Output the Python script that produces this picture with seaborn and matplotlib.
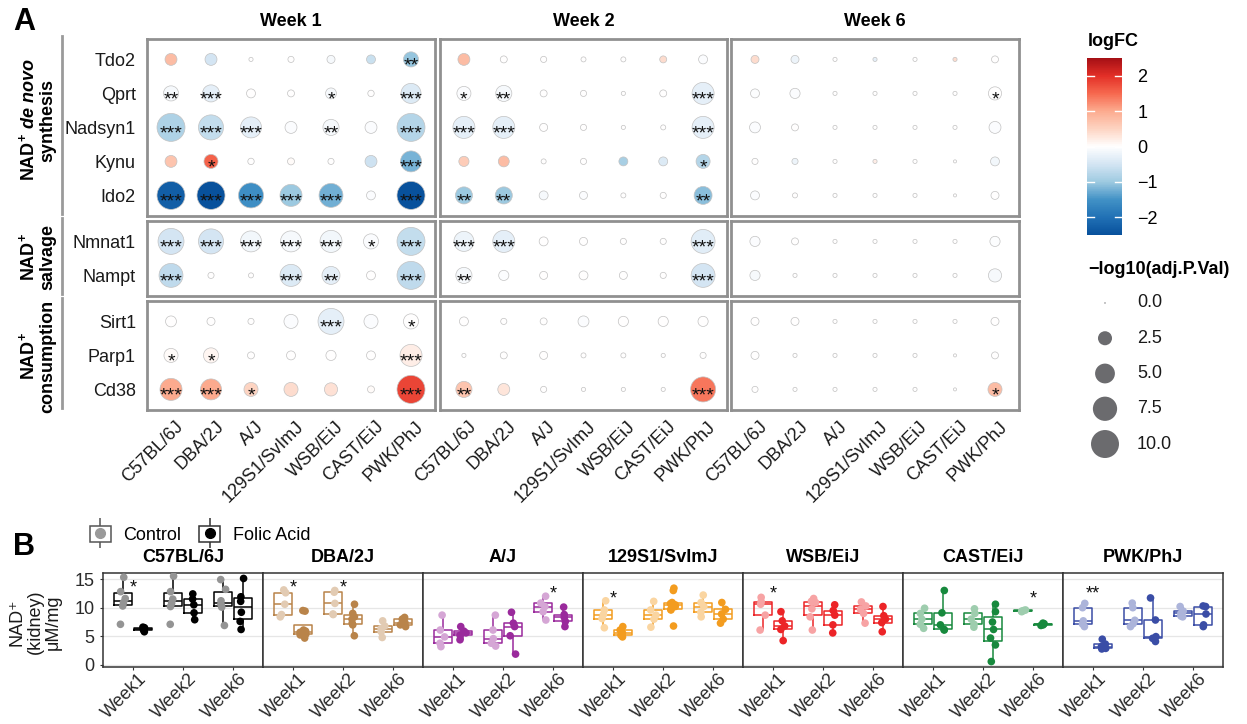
import numpy as np
import pandas as pd
import matplotlib
matplotlib.use("Agg")
import matplotlib.pyplot as plt
import matplotlib as mpl
from matplotlib.colors import LinearSegmentedColormap, Normalize, to_rgb
from matplotlib.lines import Line2D
from matplotlib.patches import Rectangle
from matplotlib.legend_handler import HandlerTuple
from matplotlib import transforms
import seaborn as sns

plt.rcParams['font.family'] = ['Liberation Sans', 'DejaVu Sans']
plt.rcParams['mathtext.fontset'] = 'custom'
plt.rcParams['mathtext.rm'] = 'Liberation Sans:bold'
plt.rcParams['mathtext.it'] = 'Liberation Sans:italic:bold'
plt.rcParams['mathtext.bf'] = 'Liberation Sans:bold'

# ---------------- data: panel A ----------------
strains = ["C57BL/6J", "DBA/2J", "A/J", "129S1/SvImJ", "WSB/EiJ", "CAST/EiJ", "PWK/PhJ"]
weeks_A = ["Week 1", "Week 2", "Week 6"]
genes_denovo = ["Tdo2", "Qprt", "Nadsyn1", "Kynu", "Ido2"]
genes_salvage = ["Nmnat1", "Nampt"]
genes_consumption = ["Sirt1", "Parp1", "Cd38"]
genes = genes_denovo + genes_salvage + genes_consumption

logfc_week1 = [
    [0.8, -0.5, 0.0, 0.0, -0.1, -0.6, -1.05],
    [-0.1, -0.3, 0.0, 0.0, -0.1, 0.0, -0.4],
    [-0.85, -0.65, -0.3, -0.05, -0.1, -0.05, -0.8],
    [0.7, 1.55, 0.0, 0.05, 0.0, -0.55, -1.2],
    [-2.3, -2.5, -1.55, -1.0, -1.25, -0.05, -2.5],
    [-0.5, -0.5, -0.15, -0.1, -0.15, -0.05, -0.65],
    [-0.7, 0.0, 0.0, -0.4, -0.3, 0.0, -0.7],
    [0.0, 0.0, 0.0, -0.05, -0.3, -0.05, 0.0],
    [0.05, 0.1, 0.0, 0.0, 0.0, 0.0, 0.2],
    [1.0, 1.0, 0.5, 0.4, 0.35, 0.05, 1.8],
]
nlp_week1 = [
    [1.8, 1.8, 0.2, 0.46, 0.8, 1.0, 2.9],
    [2.9, 3.7, 1.0, 0.6, 1.5, 0.5, 5.1],
    [11.5, 8.0, 5.6, 1.8, 3.3, 1.8, 11.5],
    [1.8, 2.5, 0.5, 0.6, 0.46, 1.8, 5.6],
    [11.5, 11.5, 8.0, 6.2, 7.3, 1.0, 11.5],
    [8.6, 8.0, 5.6, 5.6, 6.2, 2.9, 11.5],
    [7.3, 0.46, 0.3, 6.2, 4.1, 1.0, 10.0],
    [1.5, 0.8, 0.46, 2.5, 8.6, 2.5, 2.9],
    [2.5, 2.9, 0.6, 1.0, 1.3, 1.0, 6.2],
    [6.2, 5.6, 2.5, 2.5, 2.2, 0.6, 11.5],
]
stars_week1 = [
    ["", "", "", "", "", "", "**"],
    ["**", "***", "", "", "*", "", "***"],
    ["***", "***", "***", "", "**", "", "***"],
    ["", "*", "", "", "", "", "***"],
    ["***", "***", "***", "***", "***", "", "***"],
    ["***", "***", "***", "***", "***", "*", "***"],
    ["***", "", "", "***", "**", "", "***"],
    ["", "", "", "", "***", "", "*"],
    ["*", "*", "", "", "", "", "***"],
    ["***", "***", "*", "", "", "", "***"],
]
logfc_week2 = [
    [0.8, 0.0, 0.0, 0.0, 0.0, 0.4, -0.05],
    [-0.05, -0.1, 0.0, 0.0, 0.0, 0.0, -0.3],
    [-0.3, -0.3, 0.0, 0.0, 0.0, 0.0, -0.3],
    [0.6, 0.8, 0.0, 0.0, -0.9, -0.4, -0.8],
    [-1.0, -1.0, -0.1, -0.05, 0.0, 0.0, -1.1],
    [-0.2, -0.3, 0.0, 0.0, 0.0, 0.0, -0.35],
    [-0.1, -0.02, 0.0, 0.0, 0.0, 0.0, -0.5],
    [0.0, 0.0, 0.0, -0.05, 0.0, 0.0, 0.0],
    [0.0, 0.0, 0.0, 0.0, 0.0, 0.0, 0.0],
    [0.7, 0.3, 0.0, 0.0, 0.0, 0.0, 1.4],
]
nlp_week2 = [
    [1.8, 0.6, 0.46, 0.3, 0.3, 0.6, 1.0],
    [2.5, 3.3, 0.6, 0.46, 0.2, 0.6, 6.2],
    [6.2, 6.2, 0.8, 0.46, 0.2, 0.3, 6.2],
    [1.3, 1.5, 0.3, 0.46, 1.0, 1.0, 2.5],
    [3.7, 3.7, 1.0, 0.8, 0.3, 0.46, 4.1],
    [5.1, 6.2, 1.0, 0.8, 0.46, 0.46, 7.3],
    [3.3, 1.3, 0.8, 1.0, 0.8, 0.46, 7.3],
    [1.0, 0.46, 0.6, 1.5, 1.3, 1.3, 1.3],
    [0.2, 0.6, 0.8, 0.3, 0.3, 0.2, 0.46],
    [3.3, 1.8, 0.46, 0.2, 0.2, 0.2, 8.0],
]
stars_week2 = [
    ["", "", "", "", "", "", ""],
    ["*", "**", "", "", "", "", "***"],
    ["***", "***", "", "", "", "", "***"],
    ["", "", "", "", "", "", "*"],
    ["**", "**", "", "", "", "", "**"],
    ["***", "***", "", "", "", "", "***"],
    ["**", "", "", "", "", "", "***"],
    ["", "", "", "", "", "", ""],
    ["", "", "", "", "", "", ""],
    ["**", "", "", "", "", "", "***"],
]
logfc_week6 = [
    [0.4, -0.2, 0.0, -0.3, 0.0, 0.4, 0.0],
    [-0.03, -0.05, 0.0, 0.0, 0.0, 0.0, 0.0],
    [-0.05, 0.0, 0.0, 0.0, 0.0, 0.0, -0.05],
    [0.0, -0.2, 0.0, 0.2, 0.0, 0.0, -0.15],
    [-0.05, 0.0, 0.0, 0.0, 0.0, 0.0, 0.0],
    [-0.05, 0.0, 0.0, 0.0, 0.0, 0.0, -0.03],
    [-0.1, 0.0, 0.0, 0.0, 0.0, 0.0, -0.1],
    [0.0, 0.0, 0.0, 0.0, 0.0, 0.0, 0.0],
    [0.0, 0.0, 0.0, 0.0, 0.0, 0.0, 0.0],
    [0.0, 0.0, 0.0, 0.0, 0.0, 0.0, 0.8],
]
nlp_week6 = [
    [0.8, 0.8, 0.2, 0.2, 0.2, 0.2, 0.6],
    [1.0, 1.3, 0.2, 0.2, 0.2, 0.2, 2.2],
    [1.5, 0.6, 0.2, 0.2, 0.2, 0.2, 1.8],
    [0.46, 0.46, 0.2, 0.2, 0.2, 0.1, 1.0],
    [1.0, 0.3, 0.2, 0.2, 0.2, 0.1, 0.8],
    [1.3, 0.6, 0.2, 0.2, 0.2, 0.2, 1.3],
    [1.3, 0.2, 0.2, 0.2, 0.2, 0.2, 2.2],
    [0.8, 0.8, 0.2, 0.2, 0.2, 0.2, 0.8],
    [0.8, 0.2, 0.2, 0.2, 0.2, 0.1, 0.6],
    [0.46, 0.2, 0.2, 0.2, 0.2, 0.1, 2.5],
]
stars_week6 = [
    ["", "", "", "", "", "", ""],
    ["", "", "", "", "", "", "*"],
    ["", "", "", "", "", "", ""],
    ["", "", "", "", "", "", ""],
    ["", "", "", "", "", "", ""],
    ["", "", "", "", "", "", ""],
    ["", "", "", "", "", "", ""],
    ["", "", "", "", "", "", ""],
    ["", "", "", "", "", "", ""],
    ["", "", "", "", "", "", "*"],
]
size_breaks = [0.0, 2.5, 5.0, 7.5, 10.0]
logfc_ticks = [-2, -1, 0, 1, 2]

# ---------------- data: panel B ----------------
weeks_B = ["Week1", "Week2", "Week6"]
treatments = ["Control", "Folic Acid"]
c57_ctrl = [[7.1, 10.3, 10.9, 11.6, 12.8, 15.3], [7.1, 10.2, 10.8, 11.5, 12.8, 15.5], [6.9, 10.1, 10.6, 11.2, 13.2, 14.9]]
c57_fa = [[5.8, 6.1, 6.35, 6.5, 6.6], [7.9, 9.1, 10.5, 11.5, 12.4], [6.2, 7.6, 9.2, 11.1, 11.9, 15.1]]
dba_ctrl = [[8.4, 8.8, 10.6, 12.6, 13.1], [8.8, 8.9, 10.75, 12.7, 13.0], [4.8, 5.8, 6.35, 6.8, 7.7]]
dba_fa = [[4.7, 5.25, 5.4, 5.7, 5.9, 6.1, 9.4, 9.5], [5.1, 7.0, 7.3, 8.0, 8.4, 9.0, 10.6], [6.7, 7.0, 7.4, 8.0, 8.3]]
aj_ctrl = [[3.2, 3.8, 4.9, 6.1, 8.7], [3.3, 3.8, 4.6, 6.1, 8.7], [7.85, 9.3, 10.2, 10.8, 12.0]]
aj_fa = [[4.4, 5.2, 5.6, 5.9, 6.7], [1.9, 5.1, 6.7, 7.3, 9.2], [6.7, 7.6, 8.3, 8.8, 10.1]]
s129_ctrl = [[6.5, 8.1, 8.8, 9.6, 11.2], [6.6, 8.0, 8.7, 9.6, 11.1], [8.4, 9.2, 10.2, 10.9, 12.2]]
s129_fa = [[4.9, 5.2, 5.6, 6.1, 6.7], [6.8, 9.6, 9.7, 10.2, 10.5, 10.7, 10.9, 13.0, 13.4], [7.3, 8.0, 8.9, 9.7, 10.9]]
wsb_ctrl = [[6.1, 8.7, 10.6, 11.05, 11.8], [6.1, 8.4, 9.8, 10.9, 11.1, 11.6], [7.3, 9.0, 9.7, 10.3, 11.0]]
wsb_fa = [[4.25, 6.2, 6.8, 7.7, 9.3], [5.6, 7.0, 8.7, 9.5, 10.5], [5.8, 7.4, 8.0, 8.6, 10.2]]
cast_ctrl = [[6.4, 7.1, 8.0, 9.0, 9.9], [6.6, 7.1, 8.0, 9.0, 9.8], [9.3, 9.4, 9.5, 9.6]]
cast_fa = [[6.1, 6.2, 7.0, 9.1, 13.0], [0.6, 3.5, 4.7, 6.2, 7.5, 9.3, 10.6], [6.9, 7.0, 7.2, 7.3]]
pwk_ctrl = [[6.7, 7.15, 7.7, 10.0, 10.75], [6.7, 7.2, 7.8, 10.0, 10.8], [8.4, 8.55, 9.0, 9.4, 10.2]]
pwk_fa = [[2.8, 2.9, 3.2, 3.65, 4.5], [4.1, 4.65, 4.95, 7.85, 11.7], [6.7, 7.0, 8.9, 10.2, 10.3]]
star_strain = ["C57BL/6J", "DBA/2J", "DBA/2J", "A/J", "129S1/SvImJ", "WSB/EiJ", "CAST/EiJ", "PWK/PhJ"]
star_week = ["Week1", "Week1", "Week2", "Week6", "Week1", "Week1", "Week6", "Week1"]
star_label = ["*", "*", "*", "*", "*", "*", "*", "**"]
star_y = [14.5, 14.5, 14.5, 13.4, 12.5, 13.4, 12.5, 13.4]
b_yticks = [0, 5, 10, 15]

strain_colors = ["#000000", "#B9844A", "#9A2A9C", "#F39C1F", "#EC2427", "#17893D", "#3A4DA6"]

# ---------------- build tables ----------------
rowsA = []
for wk, lfc, nlp, st in zip(weeks_A, [logfc_week1, logfc_week2, logfc_week6],
                            [nlp_week1, nlp_week2, nlp_week6],
                            [stars_week1, stars_week2, stars_week6]):
    for gi, g in enumerate(genes):
        for si, s in enumerate(strains):
            rowsA.append(dict(week=wk, gene=g, strain=s, logFC=lfc[gi][si],
                              nlp=nlp[gi][si], star=st[gi][si]))
dfA = pd.DataFrame(rowsA)
dfA["xpos"] = pd.Categorical(dfA["strain"], categories=strains).codes

b_ctrl = [c57_ctrl, dba_ctrl, aj_ctrl, s129_ctrl, wsb_ctrl, cast_ctrl, pwk_ctrl]
b_fa = [c57_fa, dba_fa, aj_fa, s129_fa, wsb_fa, cast_fa, pwk_fa]
rowsB = []
for s, ctrl, fa in zip(strains, b_ctrl, b_fa):
    for wi, w in enumerate(weeks_B):
        for v in ctrl[wi]:
            rowsB.append(dict(strain=s, week=w, treatment="Control", nad=v))
        for v in fa[wi]:
            rowsB.append(dict(strain=s, week=w, treatment="Folic Acid", nad=v))
dfB = pd.DataFrame(rowsB)

# ---------------- figure ----------------
W, H = 1247, 724
fig = plt.figure(figsize=(W / 100, H / 100), dpi=100)


def ax_px(x0, y0, x1, y1):
    return fig.add_axes([x0 / W, 1 - y1 / H, (x1 - x0) / W, (y1 - y0) / H])


def fx(x):
    return x / W


def fy(y):
    return 1 - y / H


stops = [(-2.5, '#08519c'), (-2.0, '#2171b5'), (-1.5, '#4292c6'), (-1.0, '#9ecae1'),
         (-0.5, '#d4e5f3'), (0.0, '#ffffff'), (0.5, '#fdd4c2'), (1.0, '#fcab8f'),
         (1.5, '#f6694f'), (2.0, '#e32f27'), (2.5, '#a50f15')]
cmap = LinearSegmentedColormap.from_list('fc', [((v + 2.5) / 5.0, c) for v, c in stops])
norm = Normalize(-2.5, 2.5)

week_x = [(147, 435), (440, 727), (731, 1019)]
groups = [genes_denovo, genes_salvage, genes_consumption]
unit = 34.0
gy0 = [39, 221, 301]
star_fs = 14

for wi, wk in enumerate(weeks_A):
    for gi, glist in enumerate(groups):
        n = len(glist)
        y0 = gy0[gi]
        y1 = y0 + unit * (n - 1 + 1.2)
        ax = ax_px(week_x[wi][0], y0, week_x[wi][1], y1)
        sub = dfA[(dfA["week"] == wk) & (dfA["gene"].isin(glist))].copy()
        sub["ypos"] = pd.Categorical(sub["gene"], categories=glist).codes
        sns.scatterplot(data=sub, x="xpos", y="ypos", hue="logFC", palette=cmap,
                        hue_norm=norm, size="nlp", sizes=(1, 406), size_norm=(0, 10),
                        edgecolor="#c2c2c2", linewidth=0.5, legend=False, ax=ax)
        off = transforms.offset_copy(ax.transData, fig=fig, x=0, y=-0.57 * star_fs, units='points')
        for _, r in sub[sub["star"] != ""].iterrows():
            ax.text(r["xpos"], r["ypos"], r["star"], ha='center', va='baseline',
                    fontsize=star_fs, color='#111111', transform=off)
        ax.set_xlim(-0.6, 6.6)
        ax.set_ylim(n - 1 + 0.6, -0.6)
        ax.set_xlabel("")
        ax.set_ylabel("")
        ax.set_xticks(range(len(strains)))
        ax.set_yticks(range(n))
        for sp in ax.spines.values():
            sp.set_color('#909090')
            sp.set_linewidth(2.0)
        ax.tick_params(length=0)
        if wi == 0:
            ax.set_yticklabels(glist, fontsize=13, color='#1a1a1a')
            ax.tick_params(axis='y', pad=8)
        else:
            ax.tick_params(labelleft=False)
        if gi == 2:
            ax.set_xticklabels(strains, rotation=45, ha='right', va='top',
                               rotation_mode='anchor', fontsize=13, color='#1a1a1a')
            ax.tick_params(axis='x', pad=6)
            for lab in ax.get_xticklabels():
                lab.set_transform(lab.get_transform() + transforms.ScaledTranslation(4 / 100, 0, fig.dpi_scale_trans))
        else:
            ax.tick_params(labelbottom=False)
        if gi == 0:
            ax.set_title(wk, fontsize=13, fontweight='bold', pad=9)

# group labels + brackets
group_labels = [r"NAD$^{+}$ $\mathit{de\ novo}$" + "\nsynthesis", "NAD$^{+}$\nsalvage",
                "NAD$^{+}$\nconsumption"]
group_centers = [120, 257, 356]
for gi, glist in enumerate(groups):
    n = len(glist)
    y0 = gy0[gi]
    y1 = y0 + unit * (n - 1 + 1.2)
    fig.add_artist(Line2D([fx(62), fx(62)], [fy(y0 - 3), fy(y1 - 2)], color='#9a9a9a', lw=2.0))
    fig.text(fx(37), fy(group_centers[gi]), group_labels[gi], rotation=90, ha='center',
             va='center', multialignment='center', fontsize=13, fontweight='bold',
             linespacing=1.1)

# colour bar legend
cax = ax_px(1087, 58, 1122, 235)
cb = fig.colorbar(mpl.cm.ScalarMappable(norm=norm, cmap=cmap), cax=cax)
cb.outline.set_visible(False)
cb.set_ticks(logfc_ticks)
cb.set_ticklabels(["\u22122", "\u22121", "0", "1", "2"])
cax.tick_params(length=0, labelsize=13, pad=11)
for t in logfc_ticks:
    cax.plot([0, 0.2], [t, t], color='white', lw=1.0, transform=cax.get_yaxis_transform())
    cax.plot([0.8, 1.0], [t, t], color='white', lw=1.0, transform=cax.get_yaxis_transform())
fig.text(fx(1088), fy(42), "logFC", fontsize=13, fontweight='bold', ha='left', va='center')

# size legend
fig.text(fx(1088), fy(270), "\u2212log10(adj.P.Val)", fontsize=13, fontweight='bold',
         ha='left', va='center')
lax = ax_px(1080, 285, 1200, 462)
leg_df = pd.DataFrame({"x": [0] * len(size_breaks), "y": list(range(len(size_breaks))),
                       "v": size_breaks})
sns.scatterplot(data=leg_df, x="x", y="y", size="v", sizes=(1, 406), size_norm=(0, 10),
                color="#6b6b6e", linewidth=0, legend=False, ax=lax)
for i, v in enumerate(size_breaks):
    lax.text(1.28, i, f"{v:.1f}", ha='left', va='center', fontsize=13, color='#1a1a1a')
lax.set_xlim(-1, 3.8)
lax.set_ylim(len(size_breaks) - 1 + 0.51, -0.51)
lax.axis('off')

# ---------------- panel B ----------------
b_axes = []
for i, s in enumerate(strains):
    x0 = 103 + 160 * i
    ax = ax_px(x0, 573, x0 + 160, 667)
    b_axes.append(ax)
    col = strain_colors[i]
    light = tuple(0.42 * c + 0.58 for c in to_rgb(col))
    sub = dfB[dfB["strain"] == s]
    ax.yaxis.grid(True, color='#e6e6e6', lw=0.9)
    ax.set_axisbelow(True)
    sns.boxplot(data=sub, x="week", y="nad", hue="treatment", order=weeks_B,
                hue_order=treatments, palette={"Control": col, "Folic Acid": col},
                fill=False, width=0.8, gap=0.1, linewidth=1.1, saturation=1,
                showfliers=False, capprops={'linewidth': 0}, legend=False, ax=ax)
    sns.stripplot(data=sub, x="week", y="nad", hue="treatment", order=weeks_B,
                  hue_order=treatments, palette={"Control": light, "Folic Acid": col},
                  dodge=True, jitter=0.12, size=5.5, linewidth=0, legend=False, ax=ax)
    ax.set_xlim(-0.6, 2.6)
    ax.set_ylim(-0.35, 16.05)
    ax.set_yticks(b_yticks)
    ax.set_xlabel("")
    ax.set_ylabel("")
    for sp in ax.spines.values():
        sp.set_color('#333333')
        sp.set_linewidth(1.1)
    ax.tick_params(axis='both', length=2.5, color='#333333', labelsize=13, labelcolor='#2a2a2a')
    ax.set_xticks(range(len(weeks_B)))
    ax.set_xticklabels(weeks_B, rotation=45, ha='right', va='top', rotation_mode='anchor')
    ax.tick_params(axis='x', pad=0.5, length=2)
    for lab in ax.get_xticklabels():
        lab.set_transform(lab.get_transform() + transforms.ScaledTranslation(5 / 100, 0, fig.dpi_scale_trans))
    if i > 0:
        ax.tick_params(axis='y', labelleft=False, length=0)
    fig.text(fx(x0 + 80), fy(558), s, ha='center', va='center', fontsize=13, fontweight='bold')
    offB = transforms.offset_copy(ax.transData, fig=fig, x=0, y=-0.57 * 13, units='points')
    for ss, sw, sl, sy in zip(star_strain, star_week, star_label, star_y):
        if ss == s:
            ax.text(weeks_B.index(sw), sy, sl, ha='center', va='baseline', fontsize=13,
                    color='#111111', transform=offB)

# B legend
handles = [
    (Line2D([], [], color='#555555', marker='|', markersize=22, mew=1.1, linestyle='none'),
     Rectangle((0, 0), 1, 1, facecolor='white', edgecolor='#555555', lw=1.1),
     Line2D([], [], marker='o', color='#9a9a9a', markersize=7, linestyle='none')),
    (Line2D([], [], color='#333333', marker='|', markersize=22, mew=1.1, linestyle='none'),
     Rectangle((0, 0), 1, 1, facecolor='white', edgecolor='#333333', lw=1.1),
     Line2D([], [], marker='o', color='#000000', markersize=7, linestyle='none')),
]
fig.legend(handles, treatments, loc='center left', bbox_to_anchor=(fx(90), fy(535)),
           ncol=2, frameon=False, fontsize=13, handler_map={tuple: HandlerTuple(ndivide=1)},
           handlelength=1.15, handleheight=1.0, handletextpad=0.7, columnspacing=1.0,
           borderaxespad=0, borderpad=0)

fig.text(fx(35), fy(622), "NAD\u207a\n(kidney)\n\u03bcM/mg", rotation=90, ha='center',
         va='center', multialignment='center', fontsize=13, linespacing=1.1, color='#1a1a1a')

fig.text(fx(24), fy(22), "A", fontsize=22, fontweight='bold', ha='center', va='center')
fig.text(fx(24), fy(547), "B", fontsize=22, fontweight='bold', ha='center', va='center')

fig.savefig("out.png", dpi=100)
